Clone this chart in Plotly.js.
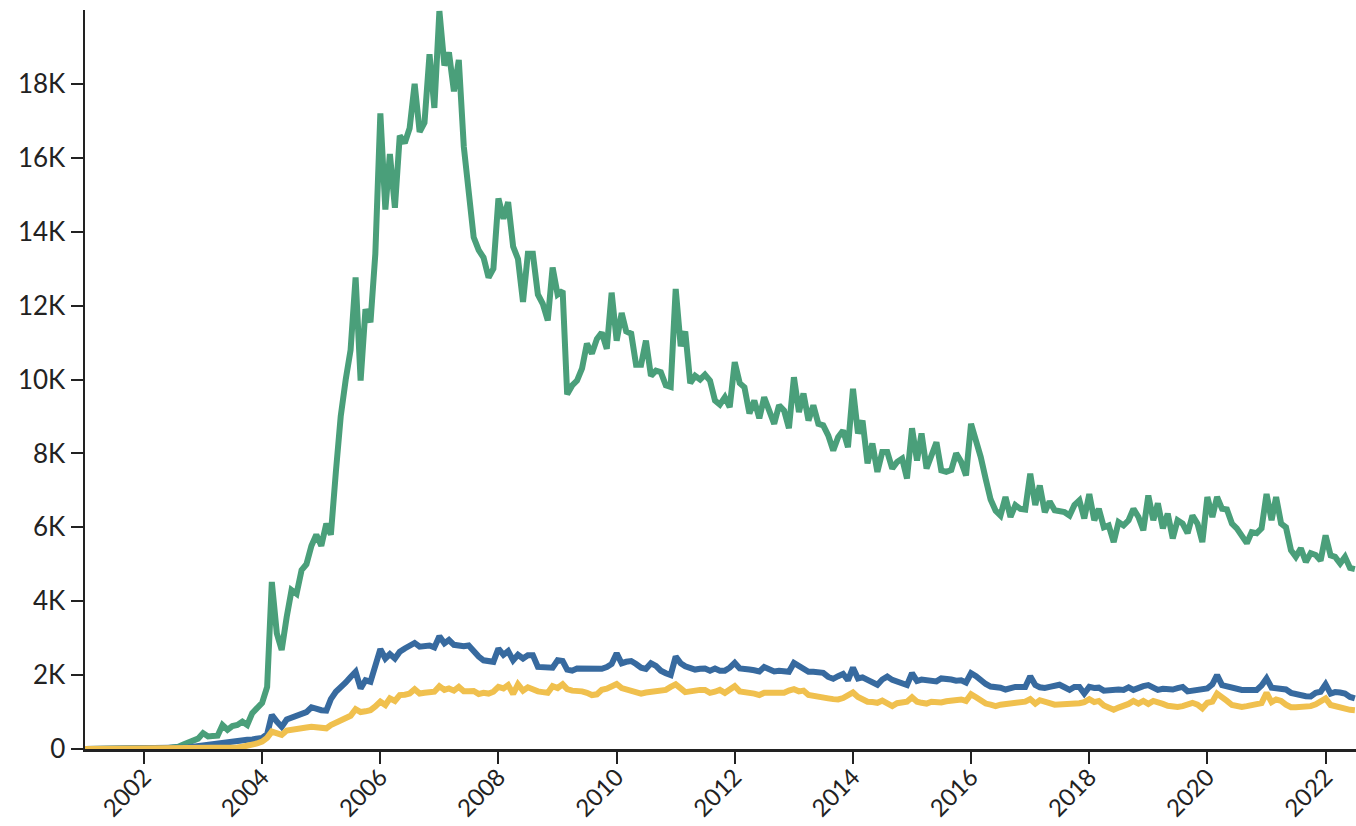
<!DOCTYPE html>
<html>
<head>
<meta charset="utf-8">
<script src="https://cdn.plot.ly/plotly-3.0.1.min.js"></script>
<style>
  html, body { margin: 0; padding: 0; background: #fff; }
  #chart { width: 1356px; height: 826px; }
</style>
</head>
<body>
<div id="chart"></div>
<script>
// Monthly series, starting January 2001
const startYear = 2001;
const startMonth = 1;

const greenValues = [
  0,0,0,0,0,0,0,0,0,0,0,0,
  0,0,0,0,0,30,50,60,120,170,200,280,
  430,340,350,360,650,520,620,650,740,650,970,1100,
  1250,1680,4520,3130,2680,3570,4300,4200,4840,5000,5500,5800,
  5500,6100,5800,7500,9000,10000,10800,12760,9970,11900,11550,13400,
  17200,14600,16100,14650,16600,16400,16800,18000,16700,16950,18800,17350,
  19970,18500,18850,17800,18650,16300,15200,13850,13500,13300,12760,13000,
  14900,14350,14800,13600,13260,12100,13400,13400,12300,12050,11600,13030,
  12300,12400,9600,9840,9970,10300,10970,10700,11100,11270,10830,12350,
  11050,11800,11300,11240,10400,10400,11050,10100,10240,10200,9840,9800,
  12450,10900,11300,9900,10100,10000,10130,9970,9430,9320,9520,9250,
  10470,9900,9790,9080,9430,8950,9520,9200,8800,9300,9160,8680,
  10060,9120,9620,8890,9300,8800,8760,8490,8080,8440,8620,8170,
  9750,8540,8890,7730,8270,7500,8040,8040,7590,7770,7860,7320,
  8680,7810,8540,7590,7900,8300,7540,7500,7550,8000,7770,7400,
  8800,8400,7900,7300,6750,6450,6320,6820,6280,6600,6500,6480,
  7450,6600,7130,6410,6700,6460,6430,6410,6320,6600,6730,6240,
  6900,6190,6500,6000,6050,5600,6140,6050,6190,6500,6280,5920,
  6860,6190,6650,5970,6370,5700,6190,6100,5840,6320,6100,5600,
  6820,6280,6820,6500,6480,6100,5970,5780,5570,5870,5840,5970,
  6900,6190,6820,6100,6000,5380,5200,5430,5060,5300,5250,5100,
  5780,5240,5200,5020,5200,4900,4870
];

const blueValues = [
  0,0,0,0,0,0,0,0,0,0,0,0,
  0,0,0,0,0,0,0,0,20,40,60,80,
  100,100,130,150,160,180,200,220,240,250,260,270,
  300,400,920,740,600,800,850,870,940,1000,1130,1070,
  1050,1040,1350,1550,1660,1800,1950,2090,1640,1860,1820,2300,
  2700,2450,2570,2450,2630,2720,2780,2870,2770,2800,2800,2750,
  3050,2860,2950,2820,2790,2780,2800,2620,2500,2400,2360,2360,
  2720,2550,2650,2400,2550,2450,2540,2540,2220,2220,2220,2200,
  2400,2380,2150,2120,2180,2180,2180,2200,2200,2170,2220,2300,
  2590,2320,2360,2380,2300,2200,2170,2320,2250,2120,2050,2000,
  2500,2320,2240,2200,2150,2170,2180,2120,2180,2120,2120,2200,
  2330,2180,2150,2150,2130,2100,2220,2180,2100,2120,2120,2090,
  2330,2250,2150,2090,2090,2080,2060,1950,1900,1970,2030,1860,
  2200,1910,1940,1870,1800,1740,1880,1960,1870,1820,1770,1730,
  2050,1840,1880,1860,1820,1830,1910,1910,1880,1850,1860,1800,
  2050,1970,1860,1760,1690,1680,1660,1610,1660,1680,1680,1680,
  1970,1730,1670,1650,1680,1730,1740,1670,1600,1680,1680,1500,
  1680,1650,1660,1580,1600,1600,1610,1600,1670,1600,1660,1700,
  1730,1640,1600,1630,1600,1610,1650,1680,1560,1580,1600,1600,
  1640,1750,2000,1730,1700,1660,1610,1600,1600,1600,1600,1720,
  1910,1660,1640,1630,1610,1520,1480,1460,1430,1420,1520,1550,
  1750,1500,1540,1530,1500,1410,1370
];

const yellowValues = [
  0,0,0,0,0,0,0,0,0,0,0,0,
  0,0,0,0,0,0,0,0,0,0,0,0,
  0,0,0,0,0,0,20,40,60,80,120,150,
  200,300,470,420,380,500,530,550,560,580,600,600,
  580,560,650,720,780,850,900,1080,1000,1020,1050,1150,
  1280,1190,1370,1300,1460,1470,1500,1620,1500,1520,1520,1550,
  1700,1600,1640,1580,1680,1560,1560,1570,1490,1520,1500,1550,
  1680,1640,1730,1490,1750,1580,1670,1600,1560,1540,1520,1700,
  1650,1750,1620,1580,1580,1560,1520,1460,1480,1600,1630,1700,
  1760,1650,1620,1580,1520,1500,1530,1550,1580,1590,1600,1680,
  1750,1640,1540,1560,1600,1600,1600,1520,1550,1600,1520,1600,
  1700,1560,1550,1530,1500,1460,1520,1520,1520,1520,1520,1580,
  1620,1560,1580,1460,1430,1410,1390,1370,1350,1340,1380,1450,
  1530,1410,1350,1280,1270,1250,1310,1220,1160,1240,1280,1280,
  1400,1280,1250,1230,1280,1260,1260,1290,1310,1330,1340,1300,
  1480,1400,1320,1230,1200,1160,1200,1220,1230,1240,1260,1280,
  1350,1230,1320,1300,1240,1200,1200,1220,1230,1230,1240,1270,
  1350,1270,1300,1180,1100,1060,1120,1150,1220,1300,1230,1300,
  1220,1300,1280,1220,1170,1150,1140,1160,1190,1250,1200,1100,
  1250,1280,1500,1420,1300,1190,1160,1140,1160,1190,1220,1240,
  1520,1270,1340,1300,1200,1130,1130,1130,1140,1160,1210,1280,
  1370,1190,1150,1120,1080,1060,1050
];

const xTickVals = ['2002-01-01','2004-01-01','2006-01-01','2008-01-01','2010-01-01','2012-01-01',
                   '2014-01-01','2016-01-01','2018-01-01','2020-01-01','2022-01-01'];
const xTickText = ['2002','2004','2006','2008','2010','2012','2014','2016','2018','2020','2022'];
const yTickVals = [0,2000,4000,6000,8000,10000,12000,14000,16000,18000];
const yTickText = ['0','2K','4K','6K','8K','10K','12K','14K','16K','18K'];

// month categories
const dates = [];
for (let i = 0; i < greenValues.length; i++) {
  const y = startYear + Math.floor((startMonth - 1 + i) / 12);
  const m = ((startMonth - 1 + i) % 12) + 1;
  dates.push(y + '-' + String(m).padStart(2, '0') + '-01');
}

const lineW = 6;
const traces = [
  { x: dates, y: greenValues, type: 'scatter', mode: 'lines', name: 'green',
    line: { color: '#4a9f7a', width: lineW } },
  { x: dates, y: blueValues, type: 'scatter', mode: 'lines', name: 'blue',
    line: { color: '#376a9f', width: lineW } },
  { x: dates, y: yellowValues, type: 'scatter', mode: 'lines', name: 'yellow',
    line: { color: '#f0c04e', width: lineW } }
];

const axisColor = '#222222';
const fam = 'Lato, "Open Sans", sans-serif';
const layout = {
  width: 1356, height: 826,
  margin: { l: 85, r: 0, t: 10, b: 77 },
  paper_bgcolor: '#ffffff', plot_bgcolor: '#ffffff',
  showlegend: false,
  font: { family: fam, size: 24, color: axisColor },
  xaxis: {
    type: 'date',
    range: ['2001-01-01', '2022-07-08'],
    tickmode: 'array', tickvals: xTickVals, ticktext: xTickText,
    tickangle: -45,
    ticks: 'outside', ticklen: 12, tickwidth: 2, tickcolor: axisColor,
    ticklabelstandoff: -10,
    showline: true, linecolor: axisColor, linewidth: 2.5,
    showgrid: false, zeroline: false,
    tickfont: { family: fam, size: 24, color: axisColor }
  },
  yaxis: {
    range: [0, 20000],
    tickmode: 'array', tickvals: yTickVals, ticktext: yTickText,
    ticks: 'outside', ticklen: 12, tickwidth: 2, tickcolor: axisColor,
    showline: true, linecolor: axisColor, linewidth: 2.5,
    showgrid: false, zeroline: false,
    tickfont: { family: fam, size: 26, color: axisColor }
  }
};

Plotly.newPlot('chart', traces, layout, { displayModeBar: false, staticPlot: true });
</script>
</body>
</html>
